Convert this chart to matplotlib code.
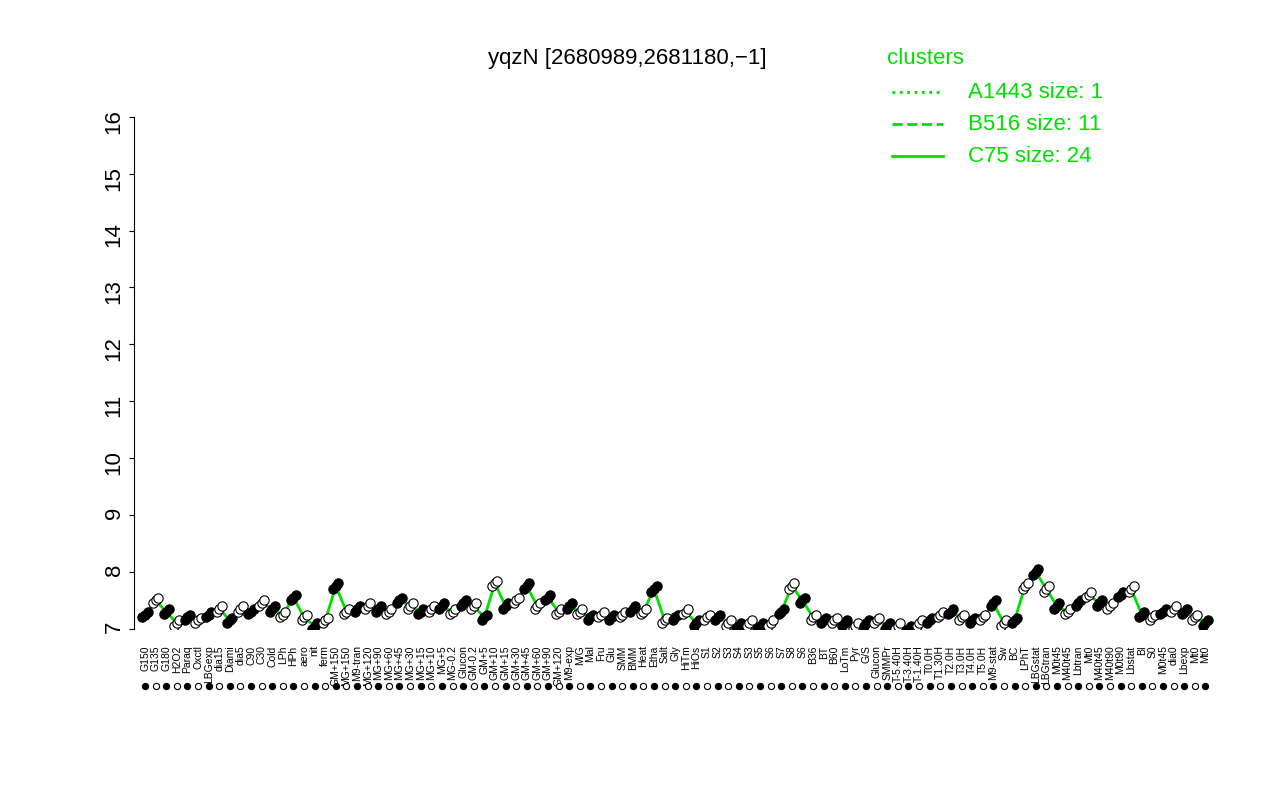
import matplotlib.pyplot as plt
import numpy as np

plt.rcParams['font.family'] = ['Liberation Sans', 'DejaVu Sans']

labels = ["G150","G135","G180","H2O2","Paraq","Oxctl","LBGexp","dia15","Diami","dia5","C90","C30",
          "Cold","LPh","HPh","aero","nit","ferm","GM+150","MG+150","M9-tran","MG+120","MG+90","MG+60",
          "MG+45","MG+30","MG+15","MG+10","MG+5","MG-0.2","Glucon","GM-0.2","GM+5","GM+10","GM+15",
          "GM+30","GM+45","GM+60","GM+90","GM+120","M9-exp","M/G","Mal","Fru","Glu","SMM","BMM","Heat",
          "Etha","Salt","Gly","HiTm","HiOs","S1","S2","S3","S4","S3","S5","S6","S7","S8","S6","B36","BT",
          "B60","LoTm","Pyr","G/S","Glucon","SMMPr","T-5.40H","T-3.40H","T-1.40H","T0.0H","T1.30H",
          "T2.0H","T3.0H","T4.0H","T5.0H","M9-stat","Sw","BC","LPhT","LBGstat","LBGtran","M0t45",
          "M40t45","Lbtran","Mt0","M40t45","M40t90","M0t90","Lbstat","BI","S0","M0t45","dia0","Lbexp",
          "Mt0","Mt0"]
values = [7.25,7.5,7.3,7.1,7.2,7.15,7.25,7.35,7.15,7.35,7.3,7.45,7.35,7.25,7.55,7.2,7.05,7.15,7.75,
          7.3,7.35,7.4,7.35,7.3,7.5,7.4,7.3,7.35,7.4,7.3,7.45,7.4,7.2,7.8,7.4,7.5,7.75,7.4,7.55,7.3,
          7.4,7.3,7.2,7.25,7.2,7.25,7.35,7.3,7.7,7.15,7.2,7.3,7.1,7.2,7.2,7.1,7.05,7.1,7.05,7.1,7.3,
          7.75,7.5,7.2,7.15,7.15,7.1,7.05,7.1,7.15,7.05,7.05,7.0,7.1,7.15,7.25,7.3,7.2,7.15,7.2,7.45,
          7.1,7.15,7.75,8.0,7.7,7.4,7.3,7.45,7.6,7.45,7.4,7.6,7.7,7.25,7.2,7.3,7.35,7.3,7.2,7.1]

x = np.arange(len(labels))
fig = plt.figure(figsize=(12.8, 8), dpi=100)
ax = fig.add_axes([0.105, 0.214, 0.845, 0.64])
ax.plot(x, values, color="#00e000", lw=2, zorder=1)
for i, (xi, v) in enumerate(zip(x, values)):
    fc = "black" if i % 2 == 0 else "white"
    for d in (-0.12, 0.0, 0.12):
        ax.scatter(xi + d * 2, v + d * 0.4, s=45, facecolor=fc, edgecolor="black", lw=0.8, zorder=3)
    ax.scatter(xi, 6.0, s=20, facecolor=fc, edgecolor="black", lw=0.8, zorder=3, clip_on=False)
ax.set_ylim(7, 16)
ax.set_xlim(-1, len(labels))
ax.set_yticks(range(7, 17))
ax.tick_params(axis="y", labelsize=16, rotation=90)
ax.set_xticks(x)
ax.set_xticklabels(labels, rotation=90, fontsize=7.5)
ax.tick_params(axis="x", length=0, pad=12)
for s in ("top", "right", "bottom"):
    ax.spines[s].set_visible(False)
ax.spines["left"].set_bounds(7, 16)
fig.text(0.49, 0.927, "yqzN [2680989,2681180,\u22121]", ha="center", va="center", fontsize=16)
fig.text(0.693, 0.927, "clusters", color="#00e000", fontsize=16, va="center")
for k, (ls, lab) in enumerate([(":", "A1443 size: 1"), ("--", "B516 size: 11"), ("-", "C75 size: 24")]):
    yy = 0.885 - k * 0.04
    fig.add_artist(plt.Line2D([0.697, 0.737], [yy, yy], ls=ls, color="#00e000", lw=2))
    fig.text(0.756, yy, lab, color="#00e000", fontsize=16, va="center")
fig.savefig("out.png")
